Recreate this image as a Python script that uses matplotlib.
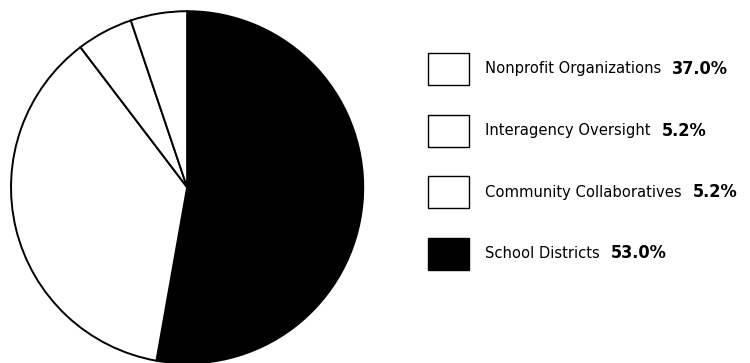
import matplotlib
matplotlib.use('Agg')
from matplotlib import pyplot as plt
from matplotlib.patches import Rectangle

# datos del grafico
labels = ['Nonprofit Organizations', 'Interagency Oversight', 'Community Collaboratives', 'School Districts']
values = [37.0, 5.2, 5.2, 53.0]
colors = ['white', 'white', 'white', 'black']

plt.rcParams['font.family'] = ['DejaVu Sans']
plt.rcParams['font.stretch'] = 'condensed'

fig = plt.figure(figsize=(7.5, 3.63), dpi=100)
ax = fig.add_axes([0.012, -0.006, 0.475, 0.98])

# orden del pastel: en sentido horario desde arriba
order = [3, 0, 1, 2]
ax.pie([values[i] for i in order], colors=[colors[i] for i in order],
       startangle=90, counterclock=False,
       wedgeprops=dict(edgecolor='black', linewidth=1.4))
ax.set_xlim(-1.01, 1.01)
ax.set_ylim(-1.01, 1.01)
ax.set_aspect('equal')

# leyenda hecha a mano
box_x, box_w, box_h = 428 / 750, 41 / 750, 32 / 363
for k, (lab, val, col) in enumerate(zip(labels, values, colors)):
    yc = 1 - (69 + k * 61.5) / 363
    fig.patches.append(Rectangle((box_x, yc - box_h / 2), box_w, box_h,
                                 transform=fig.transFigure, facecolor=col,
                                 edgecolor='black', linewidth=1.0))
    t = fig.text(485 / 750, yc, lab, fontsize=11.8, va='center', ha='left')
    fig.canvas.draw()
    bb = t.get_window_extent()
    fig.text((bb.x1 + 11) / 750, yc, f'{val:.1f}%', fontsize=13,
             fontweight='bold', va='center', ha='left')

fig.savefig('out.png', dpi=100)
